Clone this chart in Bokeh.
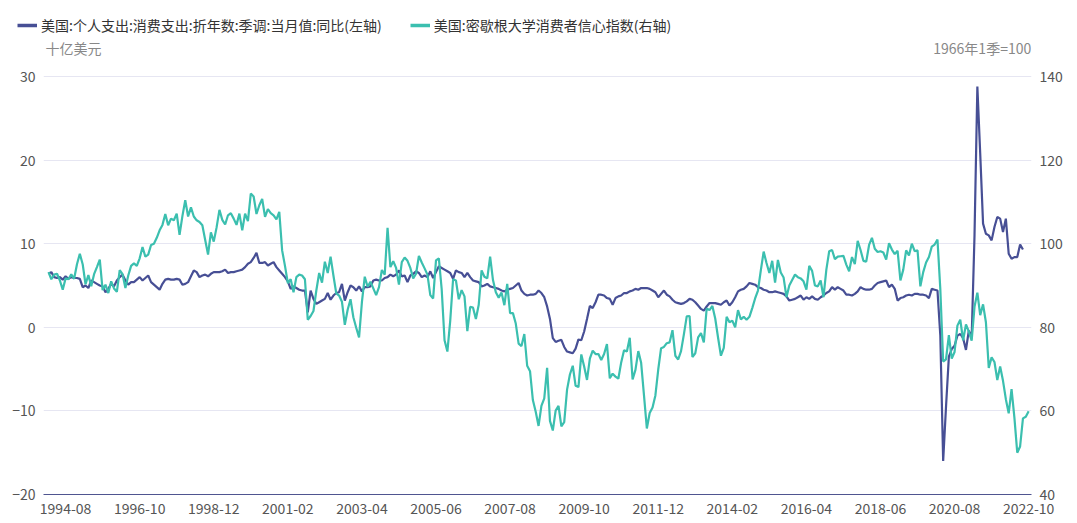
from bokeh.plotting import figure
from bokeh.layouts import column
from bokeh.models import (LinearAxis, Range1d, FixedTicker, Legend, LegendItem, Label)
from bokeh.embed import file_html
from bokeh.resources import INLINE

# Monthly data starting 1994-02
START_YEAR, START_MONTH = 1994, 2

pce_yoy = [
    6.4, 6.6, 6.0, 5.9, 6.0, 5.7, 6.1, 5.8, 6.0, 5.9, 5.9,
    5.8, 4.8, 5.0, 4.7, 5.6, 5.4, 5.2, 5.0, 4.9, 4.2, 4.6, 5.2,
    4.9, 5.6, 6.0, 6.3, 5.6, 5.1, 5.4, 5.4, 5.7, 6.0, 5.6, 5.9,
    6.2, 5.4, 5.1, 4.8, 4.5, 5.2, 5.7, 5.8, 5.7, 5.7, 5.8, 5.7,
    5.1, 5.2, 5.4, 6.1, 6.8, 6.6, 6.0, 6.2, 6.3, 6.1, 6.4, 6.6,
    6.6, 6.6, 6.7, 6.9, 6.5, 6.6, 6.6, 6.7, 6.8, 6.9, 7.2, 7.6,
    7.8, 8.3, 8.9, 7.7, 7.7, 7.8, 7.4, 7.6, 7.8, 7.2, 6.8, 6.4,
    6.0, 5.5, 4.6, 4.9, 4.7, 4.5, 4.4, 4.4, 1.8, 4.4, 3.4, 2.8,
    3.0, 3.2, 3.4, 4.1, 3.3, 3.8, 4.1, 4.2, 5.2, 3.2, 4.2, 5.0,
    4.8, 4.4, 4.9, 4.3, 4.8, 4.8, 4.9, 5.6, 5.7, 5.6, 5.6, 5.9,
    6.0, 6.3, 6.1, 6.3, 6.8, 6.1, 6.2, 5.4, 6.2, 6.4, 6.7, 6.5,
    6.0, 6.2, 6.0, 6.7, 5.9, 6.6, 7.3, 7.1, 6.9, 6.7, 6.5, 5.8,
    6.8, 6.6, 6.5, 6.0, 6.5, 6.0, 5.6, 5.5, 5.4, 4.9, 5.0, 5.2,
    4.9, 4.8, 4.7, 4.6, 4.4, 4.3, 4.5, 4.6, 4.7, 5.0, 5.3, 4.4,
    4.0, 3.8, 3.9, 3.9, 4.0, 4.4, 4.1, 3.6, 2.5, 1.0, -1.3, -1.75,
    -1.6, -1.5, -2.35, -2.9, -3.0, -3.1, -2.55, -1.45, -1.55, -0.5, 1.0, 2.55,
    2.3, 3.0, 3.9, 3.9, 3.8, 3.5, 3.4, 2.7, 3.5, 3.7, 3.8, 4.1,
    4.1, 4.3, 4.4, 4.6, 4.5, 4.7, 4.7, 4.7, 4.6, 4.4, 4.2, 3.6,
    4.0, 4.4, 3.9, 3.7, 3.3, 3.0, 2.9, 2.8, 2.9, 3.1, 3.4, 3.3,
    3.0, 2.6, 2.2, 2.0, 2.5, 2.9, 2.9, 2.9, 2.8, 2.7, 3.0, 3.2,
    2.6, 3.0, 3.6, 4.3, 4.5, 4.6, 4.9, 5.3, 5.2, 5.1, 4.8, 4.7,
    4.5, 4.4, 4.2, 4.2, 4.3, 4.2, 4.1, 4.0, 3.7, 3.2, 3.3, 3.4,
    3.6, 3.8, 3.3, 3.6, 3.4, 3.7, 3.4, 3.3, 3.6, 3.8, 4.1, 4.3,
    4.8, 4.5, 4.8, 4.6, 4.4, 3.9, 3.9, 3.8, 4.0, 4.3, 4.8, 4.6,
    4.5, 4.5, 4.6, 5.0, 5.3, 5.4, 5.5, 5.6, 4.8, 5.1, 4.6, 3.2,
    3.5, 3.6, 3.8, 3.9, 3.8, 4.0, 4.0, 3.9, 3.9, 3.8, 3.5, 4.6,
    4.5, 4.4, -1.0, -16.0, -9.5, -3.5, -2.6, -2.2, -1.0, -0.8, -1.3, -2.7,
    -0.4, -1.3, 11.0, 28.8, 20.8, 12.4, 11.2, 11.0, 10.4, 12.0, 13.2, 13.0,
    11.4, 13.0, 8.8, 8.2, 8.4, 8.4, 9.9, 9.3,
]

umich_sentiment = [
    93.2, 91.5, 92.6, 92.8, 91.2, 89.0, 91.7, 91.5, 92.7, 91.6, 95.1,
    97.6, 95.1, 90.3, 92.5, 89.8, 92.7, 94.4, 96.2, 88.9, 90.2, 88.2, 91.0,
    89.3, 88.5, 93.7, 92.7, 89.4, 92.4, 94.7, 95.3, 94.7, 96.5, 99.2, 96.9,
    97.4, 99.7, 100.0, 101.4, 103.2, 104.5, 107.1, 104.4, 106.0, 105.6, 107.2, 102.1,
    106.6, 110.4, 106.5, 108.7, 106.5, 105.6, 105.2, 104.4, 100.9, 97.4, 102.7, 100.5,
    103.9, 108.1, 105.7, 104.6, 106.8, 107.3, 106.0, 104.5, 107.2, 103.2, 107.2, 105.4,
    112.0, 111.3, 107.1, 109.2, 110.7, 106.4, 108.3, 107.3, 106.8, 105.8, 107.6, 98.4,
    94.7, 90.6, 91.5, 88.4, 92.0, 92.6, 92.4, 91.5, 81.8, 82.7, 83.9, 88.8,
    93.0, 90.7, 95.7, 93.0, 96.9, 92.4, 88.1, 87.6, 86.1, 80.6, 84.2, 86.7,
    82.4, 79.9, 77.6, 86.0, 92.1, 89.7, 90.9, 89.3, 87.7, 89.6, 93.7, 92.6,
    103.8, 94.4, 95.8, 94.2, 90.2, 95.6, 96.7, 95.9, 94.2, 91.7, 92.8, 97.1,
    95.5, 94.1, 92.6, 87.7, 86.9, 96.0, 96.5, 89.1, 76.9, 74.2, 81.6, 91.5,
    91.2, 86.7, 88.9, 87.4, 79.1, 84.9, 84.7, 82.0, 85.4, 93.6, 92.1, 91.7,
    96.9, 91.3, 88.4, 87.1, 88.3, 85.3, 90.4, 83.4, 83.4, 80.9, 76.1, 75.5,
    78.4, 70.8, 69.5, 62.6, 59.8, 56.4, 61.2, 63.0, 70.3, 57.6, 55.3, 60.1,
    61.2, 56.3, 57.3, 65.1, 68.7, 70.8, 66.0, 65.7, 73.5, 70.6, 67.4, 72.5,
    74.4, 73.6, 73.6, 72.2, 73.6, 76.0, 67.8, 68.9, 68.2, 67.7, 71.6, 74.5,
    74.2, 77.5, 67.5, 69.8, 74.3, 71.5, 63.7, 55.8, 59.5, 60.8, 63.7, 69.9,
    75.0, 75.3, 76.2, 76.4, 79.3, 73.2, 72.3, 74.3, 78.3, 82.6, 82.7, 72.9,
    73.8, 77.6, 78.6, 76.4, 84.5, 84.1, 85.1, 82.1, 77.5, 73.2, 75.1, 82.5,
    81.2, 81.6, 80.0, 84.1, 81.9, 82.5, 81.8, 82.5, 84.6, 86.9, 88.8, 93.6,
    98.1, 95.4, 93.0, 95.9, 90.7, 96.1, 93.1, 91.9, 87.2, 90.0, 91.3, 92.6,
    92.0, 91.7, 91.0, 89.0, 94.7, 93.5, 90.0, 89.8, 91.2, 87.2, 93.8, 98.2,
    98.5, 96.3, 96.9, 97.0, 97.1, 95.0, 93.4, 96.8, 95.1, 100.7, 98.5, 95.9,
    95.7, 99.7, 101.4, 98.8, 98.0, 98.2, 97.9, 96.2, 100.1, 98.6, 97.5, 98.3,
    91.2, 93.8, 98.4, 97.2, 100.0, 98.2, 98.4, 89.8, 93.2, 95.5, 96.8, 99.3,
    99.8, 101.0, 89.1, 71.8, 72.3, 78.1, 72.5, 74.1, 80.4, 81.8, 76.9, 80.7,
    79.0, 76.8, 84.9, 88.3, 82.9, 85.5, 81.2, 70.3, 72.8, 71.7, 67.4, 70.6,
    67.2, 62.8, 59.4, 65.2, 58.4, 50.0, 51.5, 58.2, 58.6, 59.9,
]

tick_labels = ["1994-08", "1996-10", "1998-12", "2001-02", "2003-04", "2005-06", "2007-08",
               "2009-10", "2011-12", "2014-02", "2016-04", "2018-06", "2020-08", "2022-10"]
left_ticks = [-20, -10, 0, 10, 20, 30]
right_ticks = [40, 60, 80, 100, 120, 140]

series1_name = "美国:个人支出:消费支出:折年数:季调:当月值:同比(左轴)"
series2_name = "美国:密歇根大学消费者信心指数(右轴)"
left_unit = "十亿美元"
right_unit = "1966年1季=100"

def month_index(label):
    y, m = label.split("-")
    return (int(y) - START_YEAR) * 12 + int(m) - START_MONTH

x1 = list(range(len(pce_yoy)))
x2 = list(range(len(umich_sentiment)))
tick_pos = [month_index(t) for t in tick_labels]

BLUE = "#474f95"
TEAL = "#3bbfaf"
FONT = "Noto Sans CJK SC"
LW = 2.2

# ---------- legend strip ----------
top = figure(width=1077, height=38, output_backend="svg", toolbar_location=None,
             x_range=Range1d(0, 1), y_range=Range1d(0, 1),
             x_axis_location=None, y_axis_location=None,
             min_border_left=0, min_border_right=0, min_border_top=0, min_border_bottom=0)
try:
    top.frame_align = False
    LEG_X = 17
except Exception:
    LEG_X = -26
top.outline_line_color = None
top.grid.visible = False
# legend-only renderers, their points lie outside the strip's ranges
lr1 = top.line([5, 6], [5, 6], line_color=BLUE, line_width=3.5)
lr2 = top.line([5, 6], [5, 6], line_color=TEAL, line_width=3.5)
legend = Legend(items=[LegendItem(label=series1_name, renderers=[lr1]),
                       LegendItem(label=series2_name, renderers=[lr2])],
                orientation="horizontal", location=(LEG_X, 3),
                padding=0, margin=0, spacing=28, glyph_width=20, glyph_height=14,
                label_standoff=4, border_line_color=None, background_fill_alpha=0)
legend.label_text_font = FONT
legend.label_text_font_size = "14px"
legend.label_text_color = "#333333"
top.add_layout(legend, "center")

# ---------- main chart ----------
# frame spans page y 38..494 ; tick 30 / 140 sits at page y 76
p = figure(width=1077, height=485, output_backend="svg", toolbar_location=None,
           x_range=Range1d(-1.75, 345.0), y_range=Range1d(-20, 34.55),
           min_border_left=43, min_border_right=46, min_border_top=0, min_border_bottom=29)
p.extra_y_ranges = {"right": Range1d(40, 149.09)}
p.outline_line_color = None
p.background_fill_color = "white"

r1 = p.line(x1, pce_yoy, line_color=BLUE, line_width=LW)
r2 = p.line(x2, umich_sentiment, line_color=TEAL, line_width=LW, y_range_name="right")

xa = p.xaxis[0]
xa.ticker = FixedTicker(ticks=tick_pos)
xa.major_label_overrides = {pos: lab for pos, lab in zip(tick_pos, tick_labels)}
xa.major_tick_line_color = None
xa.major_tick_out = 0
xa.major_tick_in = 0
xa.minor_tick_line_color = None
xa.axis_line_color = "#4f5590"
xa.axis_line_width = 1
xa.major_label_text_font = FONT
xa.major_label_text_font_size = "14px"
xa.major_label_text_color = "#555555"
xa.major_label_standoff = 8

ya = p.yaxis[0]
ya.ticker = FixedTicker(ticks=left_ticks)
ya.axis_line_color = None
ya.major_tick_line_color = None
ya.major_tick_out = 0
ya.minor_tick_line_color = None
ya.major_label_text_font = FONT
ya.major_label_text_font_size = "14px"
ya.major_label_text_color = "#555555"
ya.major_label_standoff = 8

ra = LinearAxis(y_range_name="right", ticker=FixedTicker(ticks=right_ticks))
ra.axis_line_color = None
ra.major_tick_line_color = None
ra.major_tick_out = 0
ra.minor_tick_line_color = None
ra.major_label_text_font = FONT
ra.major_label_text_font_size = "14px"
ra.major_label_text_color = "#555555"
ra.major_label_standoff = 8
p.add_layout(ra, "right")

p.xgrid.grid_line_color = None
p.ygrid.ticker = FixedTicker(ticks=left_ticks)
p.ygrid.grid_line_color = "#e6e6f2"
p.ygrid.grid_line_width = 1

p.add_layout(Label(x=-1.05, y=33.47, text=left_unit, text_font=FONT, text_font_size="14px",
                   text_color="#888888", text_baseline="middle", text_align="left"))
p.add_layout(Label(x=344.9, y=33.47, text=right_unit, text_font=FONT, text_font_size="14px",
                   text_color="#888888", text_baseline="middle", text_align="right"))

layout = column(top, p, spacing=0)
open("out.html", "w").write(file_html(layout, INLINE))
